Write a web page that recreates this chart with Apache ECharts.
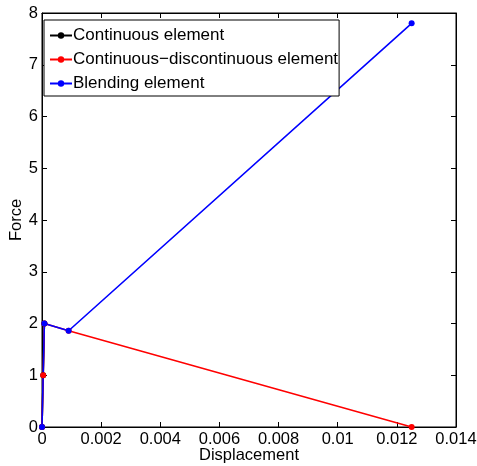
<!DOCTYPE html>
<html><head><meta charset="utf-8">
<script src="https://cdn.jsdelivr.net/npm/echarts@6/dist/echarts.min.js"></script>
<style>html,body{margin:0;padding:0;background:#fff}#c{width:477px;height:466px}</style>
</head><body><div id="c"></div>
<script>
const seriesNames = ['Continuous element', 'Continuous\u2212discontinuous element', 'Blending element'];
const continuousX = [0, 0.00004, 0.00008];
const continuousY = [0, 1.0, 2.0];
const contDiscX = [0, 0.00004, 0.00008, 0.0009, 0.0125];
const contDiscY = [0, 1.0, 2.0, 1.86, 0];
const blendingX = [0, 0.00008, 0.0009, 0.0125];
const blendingY = [0, 2.0, 1.86, 7.8];
const xTicks = [0, 0.002, 0.004, 0.006, 0.008, 0.01, 0.012, 0.014];
const yTicks = [0, 1, 2, 3, 4, 5, 6, 7, 8];

const pair = (xs, ys) => xs.map((x, i) => [x, ys[i]]);
const font = 'Liberation Sans, Arial, Helvetica, sans-serif';
const fs = 16.5;
const chart = echarts.init(document.getElementById('c'));
const mk = (name, xs, ys, color) => ({
  name, type: 'line', data: pair(xs, ys), color,
  xAxisIndex: 0, yAxisIndex: 0,
  symbol: 'circle', symbolSize: 6, showSymbol: true,
  lineStyle: { width: 1.6, color }, itemStyle: { color },
  animation: false
});
const tick = () => ({ show: true, inside: true, length: 5, lineStyle: { color: '#000', width: 1 } });
const line = () => ({ show: true, onZero: false, lineStyle: { color: '#000', width: 1 } });
const fmtX = v => { const t = xTicks.find(k => Math.abs(k - v) < 1e-9); return t === undefined ? '' : String(t); };
const fmtY = v => { const t = yTicks.find(k => Math.abs(k - v) < 1e-9); return t === undefined ? '' : String(t); };
chart.setOption({
  animation: false,
  backgroundColor: '#fff',
  grid: { left: 42, right: 21, top: 13, bottom: 39, containLabel: false, outerBoundsMode: 'none',
    show: true, borderColor: '#000', borderWidth: 1, backgroundColor: 'transparent' },
  legend: {
    orient: 'vertical', left: 44, top: 20,
    backgroundColor: '#fff', borderColor: '#000', borderWidth: 1, borderRadius: 0,
    padding: [7, 1, 4, 5], itemGap: 7, itemWidth: 22, itemHeight: 8,
    textStyle: { fontFamily: font, fontSize: 17, color: '#000', padding: [0, 0, 0, -4] },
    data: seriesNames
  },
  xAxis: [
    {
      type: 'value', gridIndex: 0, position: 'bottom', min: 0, max: 0.014, interval: 0.002,
      axisLine: line(), axisTick: tick(), splitLine: { show: false },
      name: 'Displacement', nameLocation: 'middle', nameGap: 20, nameMoveOverlap: false,
      nameTextStyle: { fontFamily: font, fontSize: fs, color: '#000' },
      axisLabel: { fontFamily: font, fontSize: fs, color: '#000', margin: 4, formatter: fmtX }
    },
    {
      type: 'value', gridIndex: 0, position: 'top', min: 0, max: 0.014, interval: 0.002,
      axisLine: line(), axisTick: tick(), splitLine: { show: false },
      axisLabel: { show: false }
    }
  ],
  yAxis: [
    {
      type: 'value', gridIndex: 0, position: 'left', min: 0, max: 8, interval: 1,
      axisLine: line(), axisTick: tick(), splitLine: { show: false },
      name: 'Force', nameLocation: 'middle', nameGap: 17, nameMoveOverlap: false,
      nameTextStyle: { fontFamily: font, fontSize: fs, color: '#000' },
      axisLabel: { fontFamily: font, fontSize: fs, color: '#000', margin: 4, formatter: fmtY }
    },
    {
      type: 'value', gridIndex: 0, position: 'right', min: 0, max: 8, interval: 1,
      axisLine: line(), axisTick: tick(), splitLine: { show: false },
      axisLabel: { show: false }
    }
  ],
  series: [
    mk(seriesNames[0], continuousX, continuousY, '#000000'),
    mk(seriesNames[1], contDiscX, contDiscY, '#ff0000'),
    mk(seriesNames[2], blendingX, blendingY, '#0000ff'),
    { name: 'frame', type: 'line', data: [], xAxisIndex: 1, yAxisIndex: 1, silent: true, showSymbol: false }
  ]
});
</script></body></html>
